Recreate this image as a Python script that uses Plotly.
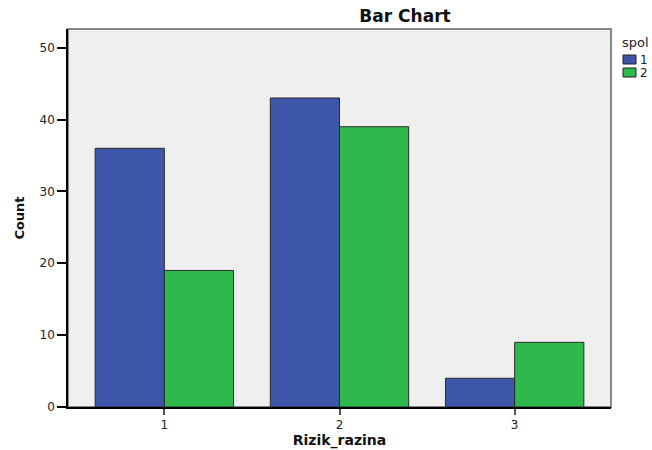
import plotly.graph_objects as go

categories = ["1", "2", "3"]
spol_1 = [36, 43, 4]
spol_2 = [19, 39, 9]
series_names = ["1", "2"]
legend_title = "spol"
colors = ["#3d56a9", "#2fb84b"]

W, H = 652, 450
ML, MR, MT, MB = 68, 41, 29, 43
PW, PH = W - ML - MR, H - MT - MB


def px_x(px):
    return (px - ML) / PW


def px_y(py):
    return (H - MB - py) / PH


fig = go.Figure()
for vals, name, col in zip([spol_1, spol_2], series_names, colors):
    fig.add_trace(go.Bar(x=categories, y=vals, name=name,
                         marker=dict(color=col, line=dict(color="#2a2a2a", width=1))))

shapes = [dict(type="rect", xref="paper", yref="paper", x0=0, y0=0, x1=1, y1=1,
               line=dict(color="#888", width=2), layer="below")]
annotations = [dict(text=legend_title, xref="paper", yref="paper", x=px_x(620), y=px_y(42),
                    xanchor="left", yanchor="middle", showarrow=False,
                    font=dict(family="DejaVu Sans", size=13, color="#222"))]
for i, (name, col) in enumerate(zip(series_names, colors)):
    top = 55 + i * 13
    shapes.append(dict(type="rect", xref="paper", yref="paper",
                       x0=px_x(623), x1=px_x(636), y0=px_y(top + 9), y1=px_y(top),
                       fillcolor=col, line=dict(color="#222", width=1)))
    annotations.append(dict(text=name, xref="paper", yref="paper", x=px_x(638), y=px_y(top + 4.5),
                            xanchor="left", yanchor="middle", showarrow=False,
                            font=dict(family="DejaVu Sans", size=12, color="#222")))

fig.update_layout(
    width=W, height=H,
    margin=dict(l=ML, r=MR, t=MT, b=MB, autoexpand=False),
    paper_bgcolor="white",
    plot_bgcolor="#efefef",
    barmode="group",
    bargap=0.21,
    bargroupgap=0,
    showlegend=False,
    hovermode=False,
    font=dict(family="DejaVu Sans", size=12, color="#222"),
    title=dict(text="<b>Bar Chart</b>", x=405 / W, xanchor="center", y=1 - 16 / H, yanchor="middle",
               font=dict(family="DejaVu Sans", size=17, color="#111")),
    xaxis=dict(
        title=dict(text="<b>Rizik_razina</b>", font=dict(family="DejaVu Sans", size=14, color="#111"), standoff=4),
        showgrid=False, showline=True, linecolor="#000", linewidth=1.5,
        ticks="outside", ticklen=6, tickcolor="#555", tickwidth=2,
        tickfont=dict(family="DejaVu Sans", size=12),
        range=[-0.55, 2.55], zeroline=False,
    ),
    yaxis=dict(
        title=dict(text="<b>Count</b>", font=dict(family="DejaVu Sans", size=13, color="#111"), standoff=12),
        showgrid=False, showline=True, linecolor="#000", linewidth=1.5,
        ticks="outside", ticklen=9, tickcolor="#000", tickwidth=1.5,
        tickfont=dict(family="DejaVu Sans", size=12),
        range=[0, 52.6], tick0=0, dtick=10, zeroline=False,
    ),
    shapes=shapes,
    annotations=annotations,
)

fig.write_html("out.html", config={"displayModeBar": False},
               post_script="document.body.style.margin='0';document.body.style.overflow='hidden';")
